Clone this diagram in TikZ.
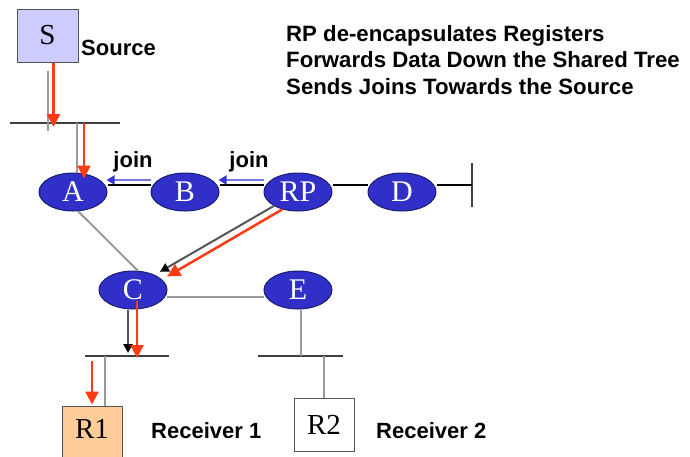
\documentclass[tikz,border=0pt]{standalone}
\usepackage{fontspec}
\setmainfont{Liberation Serif}
\newfontfamily\labfont{Liberation Sans}
\usetikzlibrary{arrows.meta,shapes.geometric}
\definecolor{rblue}{HTML}{3030C8}
\definecolor{rborder}{HTML}{1E1E70}
\definecolor{redc}{HTML}{FF3B14}
\definecolor{linkgray}{HTML}{9A9A9A}
\definecolor{busc}{HTML}{404040}
\definecolor{joinline}{HTML}{7575E6}
\definecolor{joinhead}{HTML}{3535D0}
\definecolor{sfill}{HTML}{CCCCFF}
\definecolor{rfill}{HTML}{FFCC99}
\definecolor{ctlc}{HTML}{555555}
\tikzset{
  router/.style={ellipse, draw=rborder, line width=1pt, fill=rblue, minimum width=68pt, minimum height=38pt, inner sep=0pt, text=white, font=\fontsize{30}{30}\selectfont},
  host/.style={rectangle, draw=ctlc, line width=1pt, minimum width=60pt, minimum height=53pt, inner sep=0pt, font=\fontsize{29}{29}\selectfont},
  bus/.style={line width=2.5pt, draw=busc},
  link/.style={line width=2pt, draw=linkgray},
  rowline/.style={line width=1.5pt, draw=black},
  data/.style={line width=2.5pt, draw=redc, -{Triangle[length=13pt,width=13pt]}},
  ctl/.style={line width=2pt, draw=ctlc, -{Triangle[length=9pt,width=9pt,color=black]}},
  joinarrow/.style={line width=2pt, draw=joinline, -{Triangle[length=8pt,width=9pt,color=joinhead]}},
  lbl/.style={font=\labfont\bfseries\fontsize{22}{26.5}\selectfont, inner sep=0pt}
}
\begin{document}
\begin{tikzpicture}[x=1pt,y=-1pt]
\useasboundingbox (0,0) rectangle (690,456);
% bus coordinates
\coordinate (b1l) at (10,123); \coordinate (b1r) at (120,123);
\coordinate (b3l) at (85,356); \coordinate (b3r) at (169,356);
\coordinate (b4l) at (258,356); \coordinate (b4r) at (343,356);
\coordinate (tickt) at (472,163); \coordinate (tickb) at (472,207); \coordinate (tickm) at (472,185);

% nodes
\node[host, fill=sfill, minimum height=53pt, minimum width=61pt] (S) at (47.5,35.5) {S};
\node[router] (A) at (73,192) {A};
\node[router] (B) at (185,192) {B};
\node[router] (RP) at (298,192) {RP};
\node[router] (D) at (402,192) {D};
\node[router] (C) at (133,290) {C};
\node[router] (E) at (298,290) {E};
\node[host, fill=rfill, minimum height=60pt] (R1) at (92,436) {};
\node at (92,429) {\fontsize{29}{29}\selectfont R1};
\node[host, fill=white] (R2) at (324,424.5) {R2};

% links
\draw[bus] (b1l) -- (b1r);
\draw[bus] (b3l) -- (b3r);
\draw[bus] (b4l) -- (b4r);
\draw[bus] (tickt) -- (tickb);
\draw[link] ([yshift=-8pt]S.south) -- ([yshift=-8pt]S.south |- b1l);
\draw[link] ([xshift=4pt]A.north |- b1l) -- ([xshift=4pt]A.north);
\draw[link] (A.-75) -- (C.76);
\draw[link] ([xshift=34pt,yshift=-7pt]C.center) -- ([xshift=-34pt,yshift=-7pt]E.center);
\draw[link] ([xshift=3pt]E.south) -- ([xshift=3pt]E.south |- b4l);
\draw[link] (R2.north |- b4l) -- (R2.north);
\draw[link] ([xshift=13pt]R1.north |- b3l) -- ([xshift=13pt]R1.north);
\draw[rowline] ([yshift=7pt]A.east) -- ([yshift=7pt]B.west);
\draw[rowline] ([yshift=7pt]B.east) -- ([yshift=7pt]RP.west);
\draw[rowline] ([yshift=7pt]RP.east) -- ([yshift=7pt]D.west);
\draw[rowline] ([yshift=7pt]D.east) -- (tickm);

% join arrows
\draw[joinarrow] ([yshift=12pt]B.west) -- ([yshift=12pt,xshift=-1pt]A.east);
\draw[joinarrow] ([yshift=12pt]RP.west) -- ([yshift=12pt,xshift=-1pt]B.east);
\node[lbl] at (133,162) {join};
\node[lbl] at (249,162) {join};

% control (black) arrows
\draw[ctl, shorten >=6pt] (RP.-150) -- (C.35);
\draw[ctl] ([xshift=-5pt]C.south) -- ([xshift=-5pt,yshift=3pt]C.south |- b3l);

% data (red) arrows
\draw[data] ([xshift=6pt]S.south) -- ([xshift=6pt,yshift=-4pt]S.south |- b1l);
\draw[data] ([xshift=11pt]A.north |- b1l) -- ([xshift=11pt,yshift=-6pt]A.north);
\draw[data, shorten >=6pt] (RP.-132) -- (C.20);
\draw[data] ([xshift=4pt,yshift=-11pt]C.center) -- ([xshift=4pt,yshift=-2pt]C.center |- b3l);
\draw[data] ([yshift=45pt]R1.north) -- ([yshift=1pt]R1.north);

% text labels
\node[lbl, anchor=west] at (81,48) {Source};
\node[lbl, anchor=west] at (151,431) {Receiver 1};
\node[lbl, anchor=west] at (376,431) {Receiver 2};
\node[lbl, anchor=north west, align=left, font=\labfont\bfseries\fontsize{22.2}{26.5}\selectfont] at (286,25) {RP de-encapsulates Registers\\Forwards Data Down the Shared Tree\\Sends Joins Towards the Source};
\end{tikzpicture}
\end{document}
